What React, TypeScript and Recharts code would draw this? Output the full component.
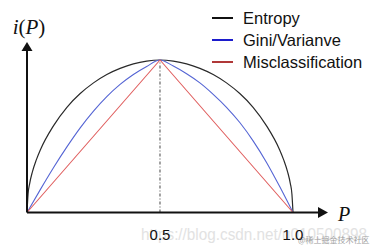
import React from 'react';
import { LineChart, Line, XAxis, YAxis, ReferenceLine, ReferenceDot, Legend } from 'recharts';

// Impurity curves (x = P, y = normalised impurity i(P))
const entropyP = [0, 0.004, 0.01, 0.02, 0.035, 0.05, 0.1, 0.15, 0.2, 0.25, 0.3, 0.35, 0.4, 0.45, 0.5, 0.55, 0.6, 0.65, 0.7, 0.75, 0.8, 0.85, 0.9, 0.95, 0.965, 0.98, 0.99, 0.996, 1];
const entropyV = [0, 0.12, 0.19, 0.265, 0.345, 0.41, 0.57, 0.69, 0.78, 0.85, 0.905, 0.945, 0.975, 0.993, 1, 0.993, 0.975, 0.945, 0.905, 0.85, 0.78, 0.69, 0.57, 0.41, 0.345, 0.265, 0.19, 0.12, 0];

const giniP = [0, 0.05, 0.1, 0.15, 0.2, 0.25, 0.3, 0.35, 0.4, 0.45, 0.5, 0.55, 0.6, 0.65, 0.7, 0.75, 0.8, 0.85, 0.9, 0.95, 1];
const giniV = [0, 0.15, 0.295, 0.43, 0.555, 0.665, 0.76, 0.84, 0.905, 0.958, 1, 0.96, 0.91, 0.85, 0.775, 0.69, 0.59, 0.47, 0.33, 0.17, 0];

const miscP = [0, 0.5, 1];
const miscV = [0, 1, 0];

const xTicks = [0.5, 1.0];
const seriesNames = ['Entropy', 'Gini/Varianve', 'Misclassification'];
const legendColors = ['#111111', '#1c1ccc', '#b03838'];
const lineColors = ['#2a2a2a', '#5565d4', '#e06060'];

const X_MAX = 1.1316;
const Y_MAX = 1.118;

const zip = (ps: number[], vs: number[]) => ps.map((p, i) => ({ p, v: vs[i] }));
const entropyData = zip(entropyP, entropyV);
const giniData = zip(giniP, giniV);
const miscData = zip(miscP, miscV);

const SERIF = "'Liberation Serif', 'Times New Roman', serif";
const SANS = "'Liberation Sans', Arial, sans-serif";

const YArrow = (props: any) => {
  const { cx, cy } = props;
  return (
    <g>
      <polygon points={`${cx},${cy} ${cx - 5.5},${cy + 9} ${cx + 5.5},${cy + 9}`} fill="#111" />
      <text x={cx + 2} y={cy - 8} textAnchor="middle" fontFamily={SERIF} fontSize={21} fill="#111">
        <tspan fontStyle="italic">i</tspan>
        <tspan>(</tspan>
        <tspan fontStyle="italic">P</tspan>
        <tspan>)</tspan>
      </text>
    </g>
  );
};

const XArrow = (props: any) => {
  const { cx, cy } = props;
  return (
    <g>
      <polygon points={`${cx},${cy} ${cx - 10},${cy - 5.5} ${cx - 10},${cy + 5.5}`} fill="#111" />
      <text x={cx + 10} y={cy + 8} textAnchor="start" fontFamily={SERIF} fontStyle="italic" fontSize={20} fill="#111">
        P
      </text>
    </g>
  );
};

const LegendContent = () => (
  <div style={{ fontFamily: SANS, fontSize: 16.5, color: '#111' }}>
    {seriesNames.map((n, i) => (
      <div key={n} style={{ display: 'flex', alignItems: 'center', height: 22, lineHeight: '22px', whiteSpace: 'nowrap' }}>
        <span style={{ display: 'inline-block', width: 21, height: 2, background: legendColors[i], marginRight: 10 }} />
        <span>{n}</span>
      </div>
    ))}
  </div>
);

export default function App() {
  return (
    <div style={{ position: 'absolute', left: 0, top: 0, width: 378, height: 250, background: '#fff', overflow: 'hidden' }}>
      <svg width={378} height={250} style={{ position: 'absolute', left: 0, top: 0 }}>
        <text x={141} y={240} fontFamily={SANS} fontSize={16} fill="#e2e2e2" textLength={226} lengthAdjust="spacingAndGlyphs">
          https://blog.csdn.net/u010500898
        </text>
        <text x={298} y={243} fontFamily="'Noto Sans CJK SC', sans-serif" fontSize={8} fill="#a0a0a0">
          @稀土掘金技术社区
        </text>
      </svg>
      <div style={{ position: 'absolute', left: 0, top: 0 }}>
        <LineChart width={378} height={250} margin={{ top: 42, right: 50, bottom: 7.5, left: 27 }}>
          <XAxis
            type="number"
            dataKey="p"
            domain={[0, X_MAX]}
            ticks={xTicks}
            tickFormatter={(v: number) => v.toFixed(1)}
            axisLine={false}
            tickLine={false}
            tickSize={6}
            tickMargin={11}
            height={30}
            tick={{ fontSize: 15, fill: '#111', fontFamily: SANS }}
            allowDataOverflow
          />
          <YAxis type="number" domain={[0, Y_MAX]} hide width={0} allowDataOverflow />
          <Legend
            layout="horizontal"
            verticalAlign="middle"
            align="center"
            content={<LegendContent />}
            wrapperStyle={{ position: 'absolute', left: 212, top: 7, width: 166 }}
          />
          <ReferenceLine
            segment={[{ x: 0.5, y: 0 }, { x: 0.5, y: 1 }]}
            stroke="#444"
            strokeWidth={1}
            strokeDasharray="3 2 1 2"
          />
          <Line data={entropyData} dataKey="v" name={seriesNames[0]} type="monotone" stroke={lineColors[0]} strokeWidth={1.2} dot={false} isAnimationActive={false} />
          <Line data={giniData} dataKey="v" name={seriesNames[1]} type="monotone" stroke={lineColors[1]} strokeWidth={1.1} dot={false} isAnimationActive={false} />
          <Line data={miscData} dataKey="v" name={seriesNames[2]} type="linear" stroke={lineColors[2]} strokeWidth={1.1} dot={false} isAnimationActive={false} />
          <ReferenceLine segment={[{ x: 0, y: 0 }, { x: 0, y: 1.06 }]} stroke="#111" strokeWidth={2} />
          <ReferenceLine segment={[{ x: 0, y: 0 }, { x: 1.1, y: 0 }]} stroke="#111" strokeWidth={2} />
          <ReferenceDot x={0} y={Y_MAX} r={0} shape={YArrow} ifOverflow="visible" />
          <ReferenceDot x={X_MAX} y={0} r={0} shape={XArrow} ifOverflow="visible" />
        </LineChart>
      </div>
    </div>
  );
}
